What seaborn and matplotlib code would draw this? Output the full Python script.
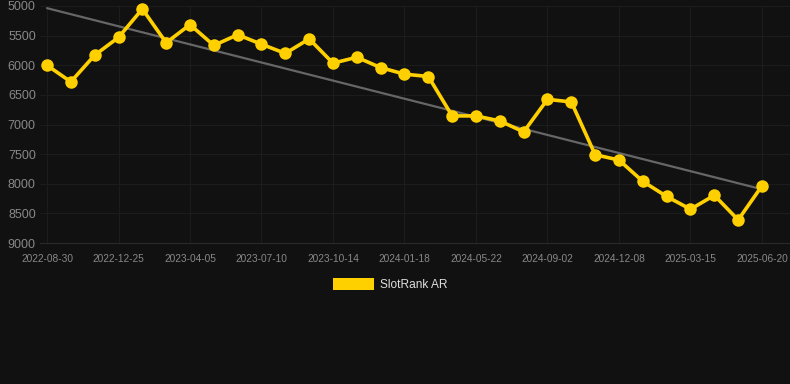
import numpy as np
import pandas as pd
import matplotlib
matplotlib.use("Agg")
import matplotlib.pyplot as plt
import seaborn as sns
from matplotlib.patches import Patch

# ---- data ----
rank_values = [6000, 6280, 5830, 5530, 5050, 5620, 5315, 5665, 5485, 5645,
               5800, 5555, 5965, 5865, 6040, 6150, 6190, 6855, 6855, 6940,
               7125, 6575, 6620, 7510, 7600, 7960, 8215, 8430, 8195, 8610,
               8035]
tick_labels = ["2022-08-30", "2022-12-25", "2023-04-05", "2023-07-10",
               "2023-10-14", "2024-01-18", "2024-05-22", "2024-09-02",
               "2024-12-08", "2025-03-15", "2025-06-20"]
y_ticks = [5000, 5500, 6000, 6500, 7000, 7500, 8000, 8500, 9000]
series_name = "SlotRank AR"

idx = np.arange(len(rank_values))
df = pd.DataFrame({"i": idx, "rank": rank_values})

sns.set_theme(style="dark")
plt.rcParams['font.family'] = ['Liberation Sans', 'DejaVu Sans']

BG = "#111111"
GOLD = "#FFD000"
fig = plt.figure(figsize=(7.9, 3.84), dpi=100, facecolor=BG)
W, H = 790, 384
ax = fig.add_axes([40 / W, (H - 243) / H, 750 / W, (243 - 6) / H])
ax.set_facecolor(BG)

# trend line
sns.regplot(data=df, x="i", y="rank", ax=ax, scatter=False, ci=None,
            line_kws=dict(color="#666666", linewidth=1.6, zorder=2))
# series
sns.lineplot(data=df, x="i", y="rank", ax=ax, color=GOLD, linewidth=2.6,
             marker="o", markersize=9, markeredgewidth=0, zorder=3,
             legend=False)
for l in ax.lines:
    l.set_clip_on(False)

step = 23.833
ax.set_xlim(-7 / step, 30 + 28 / step)
ax.set_ylim(9000, 5000)
ax.set_yticks(y_ticks)
ax.set_yticklabels([str(v) for v in y_ticks])
tick_pos = idx[::3]
ax.set_xticks(tick_pos)
ax.set_xticklabels(tick_labels)
ax.tick_params(axis="y", colors="#888888", labelsize=9, length=0, pad=3)
ax.tick_params(axis="x", colors="#888888", labelsize=7.3, length=5,
               width=0.8, color="#1e1e1e", pad=3)
ax.grid(True, color="#1c1c1c", linewidth=0.8)
ax.set_axisbelow(True)
for s in ax.spines.values():
    s.set_visible(False)
ax.spines["bottom"].set_visible(True)
ax.spines["bottom"].set_color("#2a2a2a")
ax.spines["bottom"].set_linewidth(0.8)
ax.set_xlabel("")
ax.set_ylabel("")

handle = Patch(facecolor=GOLD, edgecolor="none")
leg = fig.legend([handle], [series_name], loc="center",
                 bbox_to_anchor=(390 / W, 1 - 284.5 / H), frameon=False,
                 fontsize=8.6, handlelength=3.4, handleheight=1.1,
                 handletextpad=0.5, labelcolor="#dddddd")

fig.savefig("out.png", dpi=100, facecolor=BG)
